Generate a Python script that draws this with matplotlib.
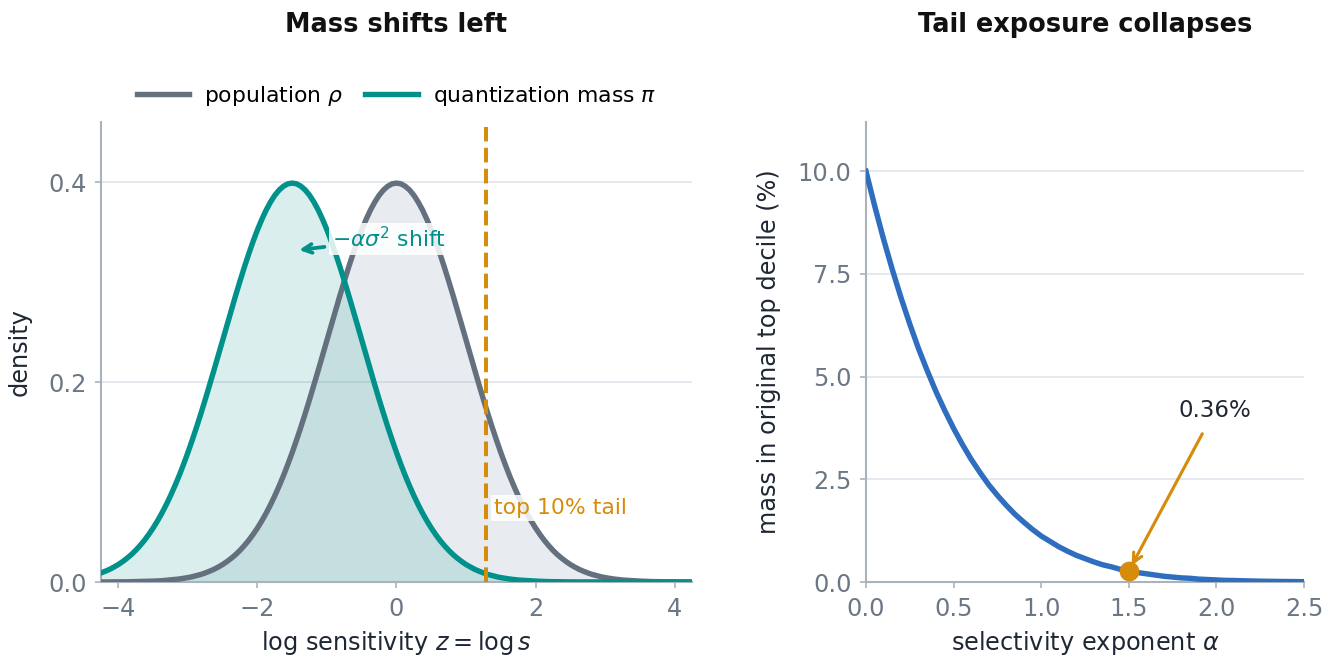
import numpy as np
import matplotlib
matplotlib.use("Agg")
import matplotlib.pyplot as plt

# ---------------- data ----------------
z_grid = np.linspace(-4.25, 4.25, 137)
population_rho = [
    0.0000, 0.0001, 0.0001, 0.0001, 0.0001, 0.0002, 0.0002, 0.0003, 0.0004, 0.0004,
    0.0006, 0.0007, 0.0009, 0.0011, 0.0013, 0.0017, 0.0020, 0.0025, 0.0030, 0.0037,
    0.0044, 0.0053, 0.0064, 0.0076, 0.0091, 0.0108, 0.0127, 0.0150, 0.0175, 0.0205,
    0.0238, 0.0275, 0.0317, 0.0365, 0.0417, 0.0476, 0.0540, 0.0611, 0.0688, 0.0772,
    0.0863, 0.0961, 0.1065, 0.1177, 0.1295, 0.1420, 0.1550, 0.1686, 0.1826, 0.1971,
    0.2119, 0.2269, 0.2420, 0.2571, 0.2721, 0.2868, 0.3011, 0.3150, 0.3282, 0.3406,
    0.3521, 0.3625, 0.3719, 0.3799, 0.3867, 0.3920, 0.3958, 0.3982,
    0.3989,
    0.3982, 0.3958, 0.3920, 0.3867, 0.3799, 0.3719, 0.3625, 0.3521, 0.3406, 0.3282,
    0.3150, 0.3011, 0.2868, 0.2721, 0.2571, 0.2420, 0.2269, 0.2119, 0.1971, 0.1826,
    0.1686, 0.1550, 0.1420, 0.1295, 0.1177, 0.1065, 0.0961, 0.0863, 0.0772, 0.0688,
    0.0611, 0.0540, 0.0476, 0.0417, 0.0365, 0.0317, 0.0275, 0.0238, 0.0205, 0.0175,
    0.0150, 0.0127, 0.0108, 0.0091, 0.0076, 0.0064, 0.0053, 0.0044, 0.0037, 0.0030,
    0.0025, 0.0020, 0.0017, 0.0013, 0.0011, 0.0009, 0.0007, 0.0006, 0.0004, 0.0004,
    0.0003, 0.0002, 0.0002, 0.0001, 0.0001, 0.0001, 0.0001, 0.0000]
quant_mass_pi = [
    0.0091, 0.0108, 0.0127, 0.0150, 0.0175, 0.0205, 0.0238, 0.0275, 0.0317, 0.0365,
    0.0417, 0.0476, 0.0540, 0.0611, 0.0688, 0.0772, 0.0863, 0.0961, 0.1065, 0.1177,
    0.1295, 0.1420, 0.1550, 0.1686, 0.1826, 0.1971, 0.2119, 0.2269, 0.2420, 0.2571,
    0.2721, 0.2868, 0.3011, 0.3150, 0.3282, 0.3406, 0.3521, 0.3625, 0.3719, 0.3799,
    0.3867, 0.3920, 0.3958, 0.3982,
    0.3989,
    0.3982, 0.3958, 0.3920, 0.3867, 0.3799, 0.3719, 0.3625, 0.3521, 0.3406, 0.3282,
    0.3150, 0.3011, 0.2868, 0.2721, 0.2571, 0.2420, 0.2269, 0.2119, 0.1971, 0.1826,
    0.1686, 0.1550, 0.1420, 0.1295, 0.1177, 0.1065, 0.0961, 0.0863, 0.0772, 0.0688,
    0.0611, 0.0540, 0.0476, 0.0417, 0.0365, 0.0317, 0.0275, 0.0238, 0.0205, 0.0175,
    0.0150, 0.0127, 0.0108, 0.0091, 0.0076, 0.0064, 0.0053, 0.0044, 0.0037, 0.0030,
    0.0025, 0.0020, 0.0017, 0.0013, 0.0011, 0.0009, 0.0007, 0.0006, 0.0004, 0.0004,
    0.0003, 0.0002, 0.0002, 0.0001, 0.0001, 0.0001, 0.0001, 0.0000,
    0.0000, 0.0000, 0.0000, 0.0000, 0.0000, 0.0000, 0.0000, 0.0000, 0.0000, 0.0000,
    0.0000, 0.0000, 0.0000, 0.0000, 0.0000, 0.0000, 0.0000, 0.0000, 0.0000, 0.0000,
    0.0000, 0.0000, 0.0000, 0.0000]
tail_threshold = 1.2816

alpha_grid = np.linspace(0.0, 2.5, 51)
tail_mass_pct = [10.00, 9.15, 8.35, 7.61, 6.92, 6.28, 5.68, 5.14, 4.63, 4.17,
                 3.74, 3.35, 2.99, 2.67, 2.37, 2.11, 1.87, 1.65, 1.46, 1.28,
                 1.12, 0.99, 0.86, 0.75, 0.65, 0.57, 0.49, 0.42, 0.37, 0.31,
                 0.27, 0.23, 0.20, 0.17, 0.14, 0.12, 0.10, 0.09, 0.07, 0.06,
                 0.05, 0.04, 0.036, 0.030, 0.025, 0.020, 0.017, 0.014, 0.012, 0.010,
                 0.008]
marked_alpha = 1.5
marked_value = 0.27
marked_label = "0.36%"

# ---------------- style ----------------
SLATE = "#64707d"
TEAL = "#00918a"
ORANGE = "#d68c0a"
BLUE = "#2f6dbf"
GRID = "#e3e7ee"
SPINE = "#a9b3be"
TICK = "#6b7785"
LABEL = "#1e2733"

plt.rcParams["font.family"] = ["DejaVu Sans"]

fig = plt.figure(figsize=(8.9, 4.4), dpi=150)
W, H = 1335, 660
ax1 = fig.add_axes([101 / W, 1 - 582 / H, (692 - 101) / W, (582 - 122) / H])
ax2 = fig.add_axes([866 / W, 1 - 582 / H, (1304 - 866) / W, (582 - 122) / H])

for ax in (ax1, ax2):
    for s in ("top", "right"):
        ax.spines[s].set_visible(False)
    for s in ("left", "bottom"):
        ax.spines[s].set_color(SPINE)
        ax.spines[s].set_linewidth(1.0)
    ax.tick_params(axis="both", colors=SPINE, labelcolor=TICK, labelsize=11.5,
                   length=3, width=0.8, pad=4)
    ax.grid(axis="y", color=GRID, linewidth=0.9)
    ax.set_axisbelow(True)

# ---------------- left panel ----------------
ax1.fill_between(z_grid, 0, population_rho, color="#8ca3b8", alpha=0.2, linewidth=0, zorder=1)
ax1.fill_between(z_grid, 0, quant_mass_pi, color=TEAL, alpha=0.15, linewidth=0, zorder=1)
ax1.plot(z_grid, population_rho, color=SLATE, lw=2.6, label=r"population $\rho$", zorder=3)
ax1.plot(z_grid, quant_mass_pi, color=TEAL, lw=2.6, label=r"quantization mass $\pi$", zorder=3)
ax1.axvline(tail_threshold, ymax=0.99, color=ORANGE, lw=1.9, ls="--", zorder=4)

ax1.set_xlim(-4.25, 4.25)
ax1.set_ylim(0, 0.46)
ax1.set_xticks([-4, -2, 0, 2, 4])
ax1.set_yticks([0.0, 0.2, 0.4])
ax1.set_xlabel(r"log sensitivity $z = \log s$", fontsize=11.5, color=LABEL, labelpad=4)
ax1.set_ylabel("density", fontsize=11.5, color=LABEL, labelpad=8)

ax1.annotate(r"$-\alpha\sigma^2$ shift", xy=(-1.4, 0.332), xytext=(-0.93, 0.343),
             ha="left", va="center", fontsize=10.5, color=TEAL,
             bbox=dict(boxstyle="square,pad=0.15", fc="white", ec="none", alpha=0.85),
             arrowprops=dict(arrowstyle="->", color=TEAL, lw=1.8, shrinkA=2, shrinkB=0),
             zorder=5)
ax1.text(1.40, 0.074, "top 10% tail", ha="left", va="center", fontsize=10.5, color=ORANGE,
         bbox=dict(boxstyle="square,pad=0.15", fc="white", ec="none", alpha=0.85), zorder=5)

ax1.legend(loc="center", bbox_to_anchor=(0.5, 1 + 26 / 460), ncol=2, frameon=False,
           fontsize=10.5, handlelength=2.4, columnspacing=1.0, handletextpad=0.7)

# ---------------- right panel ----------------
ax2.plot(alpha_grid, tail_mass_pct, color=BLUE, lw=2.6, zorder=3)
ax2.plot([marked_alpha], [marked_value], "o", color=ORANGE, ms=8.5, zorder=5)
ax2.annotate(marked_label, xy=(marked_alpha, marked_value), xytext=(1.99, 4.17),
             ha="center", va="center", fontsize=11, color=LABEL,
             arrowprops=dict(arrowstyle="->", color=ORANGE, lw=1.5, shrinkA=4, shrinkB=3),
             zorder=6)
ax2.set_xlim(0, 2.5)
ax2.set_ylim(0, 11.2)
ax2.set_xticks([0.0, 0.5, 1.0, 1.5, 2.0, 2.5])
ax2.set_yticks([0.0, 2.5, 5.0, 7.5, 10.0])
ax2.set_xticklabels(["0.0", "0.5", "1.0", "1.5", "2.0", "2.5"])
ax2.set_yticklabels(["0.0", "2.5", "5.0", "7.5", "10.0"])
ax2.set_xlabel(r"selectivity exponent $\alpha$", fontsize=11.5, color=LABEL, labelpad=4)
ax2.set_ylabel("mass in original top decile (%)", fontsize=11.5, color=LABEL, labelpad=8)

# ---------------- titles ----------------
fig.text((101 + 692) / 2 / W, 1 - 25 / H, "Mass shifts left", ha="center", va="center",
         fontsize=12.3, fontweight="bold", color="#111111")
fig.text((866 + 1304) / 2 / W, 1 - 25 / H, "Tail exposure collapses", ha="center", va="center",
         fontsize=12.3, fontweight="bold", color="#111111")

fig.savefig("out.png", dpi=150)
